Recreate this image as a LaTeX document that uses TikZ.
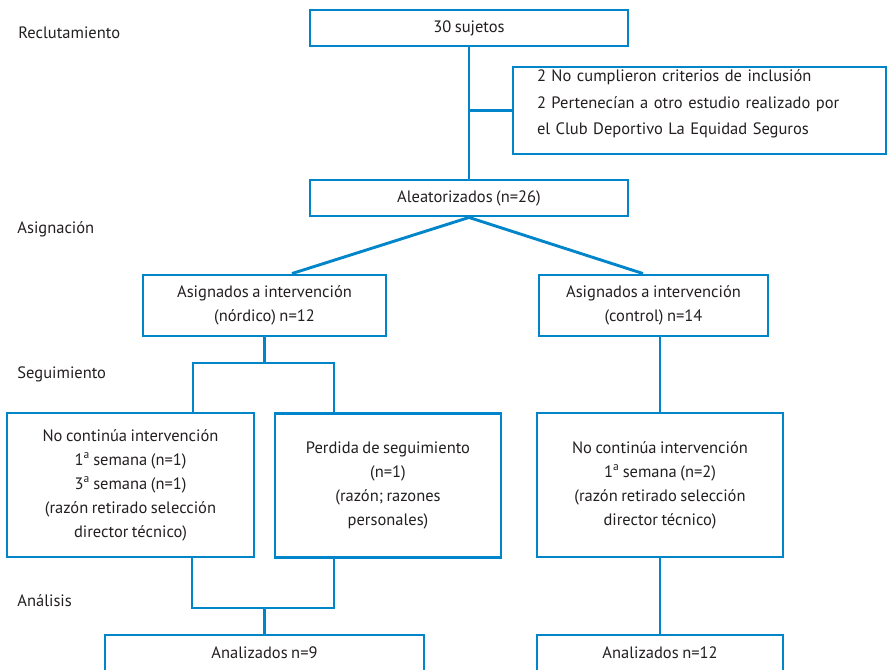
\documentclass[tikz,border=0pt]{standalone}
\usepackage{fontspec}
\setmainfont[WordSpace=0.8]{PT Sans}
\usepackage{xcolor}
\usetikzlibrary{calc}
\definecolor{flowblue}{RGB}{0,133,202}
\definecolor{flowtext}{RGB}{35,31,32}

\begin{document}
\begin{tikzpicture}[
  x=1pt, y=-1pt,
  line width=2.9pt,
  every node/.style={font=\fontsize{16.5}{24}\selectfont, text=flowtext},
  box/.style={rectangle, draw=flowblue, align=center, inner sep=0pt},
  phase/.style={anchor=base west, inner sep=0pt},
  link/.style={draw=flowblue}
]
\useasboundingbox (0,0) rectangle (888,669);
\clip (0,0) rectangle (888,669);

% phase labels
\node[phase] (lblrec) at (17,38)  {Reclutamiento};
\node[phase] (lblasg) at (16,233) {Asignación};
\node[phase] (lblseg) at (16,378) {Seguimiento};
\node[phase] (lblana) at (16,606) {Análisis};

% boxes
\node[box, text width=325pt, inner xsep=24pt, align=left, minimum height=87pt,
  text depth=69pt, font=\fontsize{16.5}{26.5}\selectfont] (excl) at (699.5,110.5)
  {2 No cumplieron criterios de inclusión\\2 Pertenecían a otro estudio realizado por\\el Club Deportivo La Equidad Seguros};
\node[box, minimum width=318pt, minimum height=36pt] (sujetos) at (469,28) {30 sujetos};
\node[box, minimum width=318pt, minimum height=36pt] (aleat) at (469,198) {Aleatorizados (n=26)};
\node[box, minimum width=243pt, minimum height=61pt] (asigN) at (264.5,305.5)
  {Asignados a intervención\\(nórdico) n=12};
\node[box, minimum width=229pt, minimum height=61pt] (asigC) at (653.5,305.5)
  {Asignados a intervención\\(control) n=14};
\node[box, minimum width=247pt, minimum height=144pt] (noN) at (130.5,485)
  {No continúa intervención\\1\textsuperscript{a} semana (n=1)\\3\textsuperscript{a} semana (n=1)\\(razón retirado selección\\director técnico)};
\node[box, minimum width=226pt, minimum height=144pt] (perd) at (388,485.5)
  {Perdida de seguimiento\\(n=1)\\(razón; razones\\personales)};
\node[box, minimum width=246pt, minimum height=144pt] (noC) at (660,485)
  {No continúa intervención\\1\textsuperscript{a} semana (n=2)\\(razón retirado selección\\director técnico)};
\node[box, minimum width=319pt, minimum height=36pt] (anN) at (264.5,653) {Analizados n=9};
\node[box, minimum width=246pt, minimum height=36pt] (anC) at (660,653) {Analizados n=12};

% joints
\coordinate (forkL) at (193,363);
\coordinate (forkR) at (334,363);
\coordinate (joinL) at (192,608);
\coordinate (joinR) at (334,608);

% connectors
\draw[link] (sujetos.south) -- (aleat.north);
\draw[link] (sujetos.south |- excl.west) -- (excl.west);
\draw[link] (aleat.south) -- ($(asigN.north)+(27.5,0)$);
\draw[link] (aleat.south) -- ($(asigC.north)+(-10.5,0)$);
\draw[link] (asigN.south) -- (asigN.south |- forkL);
\draw[link] (noN.north -| forkL) -- (forkL) -- (forkR) -- (perd.north -| forkR);
\draw[link] (noN.south -| joinL) -- (joinL) -- (joinR) -- (perd.south -| joinR);
\draw[link] (anN.north) -- (anN.north |- joinL);
\draw[link] (noC.north |- asigC.south) -- (noC.north);
\draw[link] (noC.south) -- (anC.north);
\end{tikzpicture}
\end{document}
